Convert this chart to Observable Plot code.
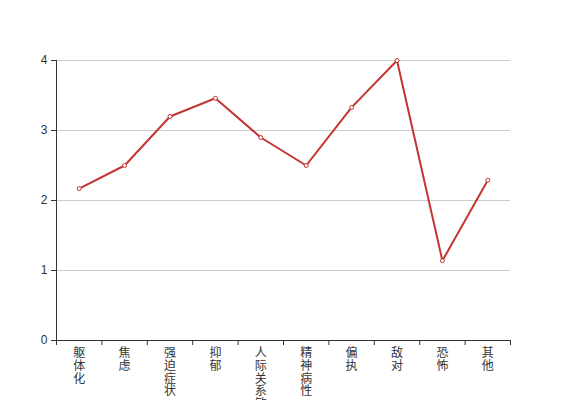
<!DOCTYPE html>
<html>
<head>
<meta charset="utf-8">
<script src="https://cdn.jsdelivr.net/npm/d3@7"></script>
<script src="https://cdn.jsdelivr.net/npm/@observablehq/plot@0.6"></script>
<style>
  html, body { margin: 0; padding: 0; background: #fff; }
  svg { display: block; }
</style>
</head>
<body>
<div id="chart"></div>
<script>
const categories = ["躯体化", "焦虑", "强迫症状", "抑郁", "人际关系敏感", "精神病性", "偏执", "敌对", "恐怖", "其他"];
const values = [2.17, 2.5, 3.2, 3.46, 2.9, 2.5, 3.33, 4.0, 1.14, 2.29];
const yTicks = [0, 1, 2, 3, 4];

const data = categories.map((c, i) => ({cat: c, pos: i + 0.5, value: values[i]}));
const boundaries = d3.range(categories.length + 1);

const chart = Plot.plot({
  width: 567,
  height: 400,
  marginLeft: 56,
  marginRight: 57,
  marginTop: 60,
  marginBottom: 60,
  style: {fontFamily: "'Liberation Sans', 'Noto Sans CJK SC', sans-serif", fontSize: "12px", color: "#333"},
  x: {domain: [0, categories.length]},
  y: {domain: [0, 4]},
  marks: [
    Plot.gridY(yTicks, {stroke: "#ccc", strokeOpacity: 1}),
    Plot.axisY(yTicks, {tickSize: 5, tickPadding: 4, tickFormat: d => String(d), fontSize: 12, fill: "#333", stroke: "#333", label: null}),
    Plot.axisX(boundaries, {tickSize: 5, tickFormat: () => "", stroke: "#333", label: null}),
    Plot.ruleX([0], {stroke: "#333"}),
    Plot.ruleY([0], {stroke: "#333"}),
    Plot.text(data, {
      x: "pos", y: 0,
      text: d => [...d.cat].join("\n"),
      lineAnchor: "top", dy: 8, lineHeight: 1.05,
      fontSize: 12, fill: "#333"
    }),
    Plot.line(data, {x: "pos", y: "value", stroke: "#c23531", strokeWidth: 2}),
    Plot.dot(data, {x: "pos", y: "value", r: 2, stroke: "#c23531", strokeWidth: 1, fill: "white"})
  ]
});
document.getElementById("chart").appendChild(chart);
</script>
</body>
</html>
